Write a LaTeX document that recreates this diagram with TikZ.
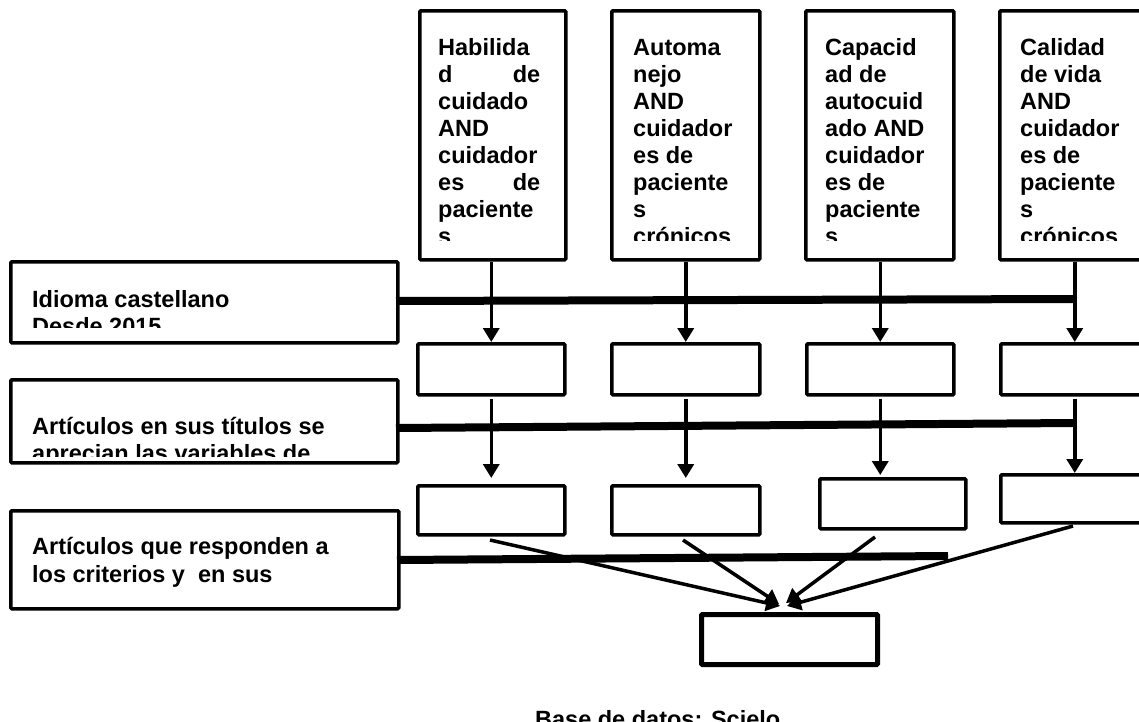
\documentclass[tikz,border=0pt]{standalone}
\usepackage{fontspec}
\setmainfont{Liberation Sans}
\usetikzlibrary{arrows.meta,calc}
\newcommand{\toplines}[1]{\parbox[t]{400pt}{\raggedright #1}}
\newcommand{\justline}[2]{\makebox[102pt]{#1\hfill #2}}
\begin{document}
\begin{tikzpicture}[x=1pt,y=-1pt,
  box/.style={draw, line width=3.5pt, rounded corners=1pt, inner sep=0pt, anchor=north west},
  txt/.style={font=\bfseries\fontsize{23.5}{27}\selectfont, inner sep=0pt, anchor=base west},
  arr/.style={line width=3.5pt, -{Triangle[width=16pt,length=14pt]}},
  bar/.style={line width=8pt}]
\useasboundingbox (0,0) rectangle (1139,721);
\clip (0,0) rectangle (1139,721);
% top boxes
\node[box, minimum width=146pt, minimum height=249pt] (t1) at (418,9) {};
\node[box, minimum width=148pt, minimum height=249pt] (t2) at (610,9) {};
\node[box, minimum width=148pt, minimum height=249pt] (t3) at (804,9) {};
\node[box, minimum width=148pt, minimum height=249pt] (t4) at (998,9) {};
\begin{scope}
\clip (400,0) rectangle (1139,240);
\node[txt] (t1x) at (438,55) {\toplines{Habilida\\\justline{d}{de}\\cuidado\\AND\\cuidador\\\justline{es}{de}\\paciente\\s}};
\node[txt] (t2x) at (633,55) {\toplines{Automa\\nejo\\AND\\cuidador\\es de\\paciente\\s\\crónicos}};
\node[txt] (t3x) at (825,55) {\toplines{Capacid\\ad de\\autocuid\\ado AND\\cuidador\\es de\\paciente\\s}};
\node[txt] (t4x) at (1020,55) {\toplines{Calidad\\de vida\\AND\\cuidador\\es de\\paciente\\s\\crónicos}};
\end{scope}
% left boxes
\node[box, minimum width=387pt, minimum height=81pt] (L1) at (9,260) {};
\node[box, minimum width=387pt, minimum height=83pt] (L2) at (9,378) {};
\node[box, minimum width=388pt, minimum height=98pt] (L3) at (9,509) {};
\begin{scope}
\clip (0,0) rectangle (400,327);
\node[txt] (L1x) at (32,307) {\toplines{Idioma castellano\\Desde 2015}};
\end{scope}
\begin{scope}
\clip (0,378) rectangle (400,456);
\node[txt] (L2x) at (32,434) {\toplines{Artículos en sus títulos se\\aprecian las variables de}};
\end{scope}
\node[txt, font=\bfseries\fontsize{23.5}{28}\selectfont] (L3x) at (32,554) {\toplines{Artículos que responden a\\los criterios y\ \ en sus}};
% row 2 boxes
\node[box, minimum width=147pt, minimum height=51pt] (m1) at (416,342) {};
\node[box, minimum width=148pt, minimum height=51pt] (m2) at (610,342) {};
\node[box, minimum width=147pt, minimum height=51pt] (m3) at (805,342) {};
\node[box, minimum width=148pt, minimum height=51pt] (m4) at (999,342) {};
% row 3 boxes
\node[box, minimum width=147pt, minimum height=49pt] (r1) at (416,484) {};
\node[box, minimum width=148pt, minimum height=49pt] (r2) at (610,484) {};
\node[box, minimum width=146pt, minimum height=50pt] (r3) at (818,477) {};
\node[box, minimum width=148pt, minimum height=48pt] (r4) at (999,473) {};
% bottom box
\node[box, line width=5pt, minimum width=176pt, minimum height=50pt] (b) at (699,612) {};
% bottom label
\node[txt] (src) at (535,727) {Base de datos: Scielo};
% vertical arrows top -> row 2
\draw[arr] (t1.south -| m1.north) -- (m1.north);
\draw[arr] (t2.south -| m2.north) -- (m2.north);
\draw[arr] (t3.south -| m3.north) -- (m3.north);
\draw[arr] (t4.south -| m4.north) -- (m4.north);
% vertical arrows row 2 -> row 3
\draw[arr, shorten <=2pt, shorten >=6pt] (m1.south) -- (m1.south |- r1.north);
\draw[arr, shorten <=2pt, shorten >=6pt] (m2.south) -- (m2.south |- r2.north);
\draw[arr, shorten <=2pt, shorten >=2pt] (m3.south) -- (m3.south |- r3.north);
\draw[arr, shorten <=2pt] (m4.south) -- (m4.south |- r4.north);
% thick bars
\coordinate (s1) at (396,301);
\coordinate (j1) at (1073,299);
\coordinate (s2) at (396,428);
\coordinate (j2) at (1073,423);
\coordinate (s3) at (397,560);
\coordinate (j3) at (948,556);
\draw[bar] (s1) -- (j1);
\draw[bar] (s2) -- (j2);
\draw[bar] (s3) -- (j3);
% converging arrows
\coordinate (c1) at (490,540);
\coordinate (c2) at (683,540);
\coordinate (c3) at (875,537);
\coordinate (c4) at (1073,526);
\coordinate (e1) at (780,606);
\coordinate (e2) at (779,604);
\coordinate (e3) at (786,603);
\coordinate (e4) at (787,606);
\draw[arr] (c1) -- (e1);
\draw[arr] (c2) -- (e2);
\draw[arr] (c3) -- (e3);
\draw[arr] (c4) -- (e4);
\end{tikzpicture}
\end{document}
